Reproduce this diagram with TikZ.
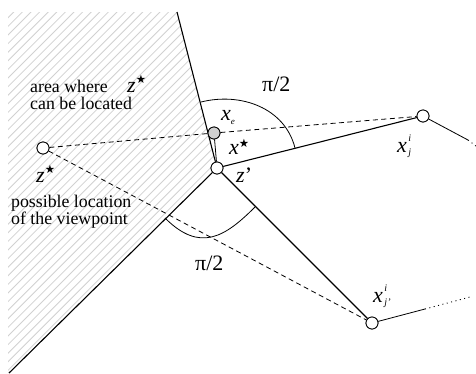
\documentclass[tikz,border=0pt]{standalone}
\usepackage{fontspec}
\setmainfont{Liberation Serif}
\newfontfamily\starfont{DejaVu Sans}
\newcommand{\bstar}{{\starfont\fontsize{11.5}{11.5}\selectfont ★}}
\newcommand{\supsub}[2]{{\fontsize{10}{12}\selectfont\itshape\setlength{\tabcolsep}{0pt}\renewcommand{\arraystretch}{1.17}\kern1.5pt\raisebox{11pt}{\begin{tabular}[t]{l}#1\\#2\end{tabular}}}}
\tikzset{
  pt/.style={circle,draw,line width=0.8pt,fill=white,minimum size=12pt,inner sep=0pt},
  gpt/.style={pt,fill=black!18},
  main/.style={line width=1.1pt},
  thin/.style={line width=0.8pt},
  hatch/.style={line width=0.8pt,black!18},
  dsh/.style={line width=0.8pt,dash pattern=on 5pt off 3.5pt},
  dots/.style={line width=0.9pt,dash pattern=on 1pt off 3.5pt},
  txt/.style={font=\fontsize{17.8}{19}\selectfont,inner sep=0pt,anchor=base west},
  mth/.style={font=\fontsize{22}{22}\selectfont,inner sep=0pt,anchor=base west},
}
\begin{document}
\begin{tikzpicture}[x=1pt,y=-1pt]
\useasboundingbox (0,0) rectangle (476,373);
% hatched area
\begin{scope}
\clip (8,12) -- (177,12) -- (217,168) -- (9,373) -- (8,373) -- cycle;
\foreach \c in {0,8.6,...,630} {\draw[hatch] (\c,0) -- ({\c-400},400);}
\end{scope}
% coordinates
\coordinate (top) at (177,12);
\coordinate (bot) at (9,373);
\coordinate (r1) at (468,140);
\coordinate (r1d) at (476,146);
\coordinate (r2) at (425,309);
\coordinate (r2d) at (470,297);
% nodes
\node[pt] (zp) at (217,168) {};
\node[gpt] (xe) at (214,133) {};
\node[pt] (xj) at (423,116) {};
\node[pt] (zs) at (43,148) {};
\node[pt] (xjp) at (372,323) {};
% boundary lines
\draw[main] (top) -- (zp);
\draw[main] (bot) -- (zp);
% dashed sight lines
\draw[dsh] (zs) -- (xe);
\draw[dsh] (xe) -- (xj);
\draw[dsh] (zs) -- (xjp);
% solid lines
\draw[thin] (xe) -- (zp);
\draw[main] (zp) -- (xj);
\draw[main] (zp) -- (xjp);
\draw[thin] (xj) -- (r1);
\draw[dots] (r1) -- (r1d);
\draw[thin] (xjp) -- (r2);
\draw[dots] (r2) -- (r2d);
% right-angle arcs
\draw[thin] (201,102) .. controls (241,92) and (285,108) .. (295,148);
\draw[thin] (165,218) .. controls (200,253) and (225,237) .. (255,207);
% redraw nodes on top
\node[pt] at (zp) {};
\node[gpt] at (xe) {};
\node[pt] at (xj) {};
\node[pt] at (zs) {};
\node[pt] at (xjp) {};
% texts
\node[txt] (t1) at (30,92) {area where};
\node[txt] (t2) at (30,109.5) {can be located};
\node[txt] (t3) at (11,207) {possible location};
\node[txt] (t4) at (11,224.5) {of the viewpoint};
\node[mth] (lz1) at (127,92) {\textit{z}\raisebox{9pt}{\bstar}};
\node[mth] (lz2) at (36,182) {\textit{z}\raisebox{9pt}{\bstar}};
\node[mth] (lxs) at (229,154) {\textit{x}\raisebox{7pt}{\bstar}};
\node[mth] (lzp) at (236,182) {\textit{z}’};
\node[mth] (lxe) at (221,120) {\textit{x}\raisebox{-4pt}{\fontsize{9}{9}\selectfont\textit{e}}};
\node[mth] (lpi1) at (262,91) {π/2};
\node[mth] (lpi2) at (195,270) {π/2};
\node[mth] (lxj) at (397,152) {\textit{x}\supsub{i}{j}};
\node[mth] (lxjp) at (373,302) {\textit{x}\supsub{i}{j’}};
\end{tikzpicture}
\end{document}
